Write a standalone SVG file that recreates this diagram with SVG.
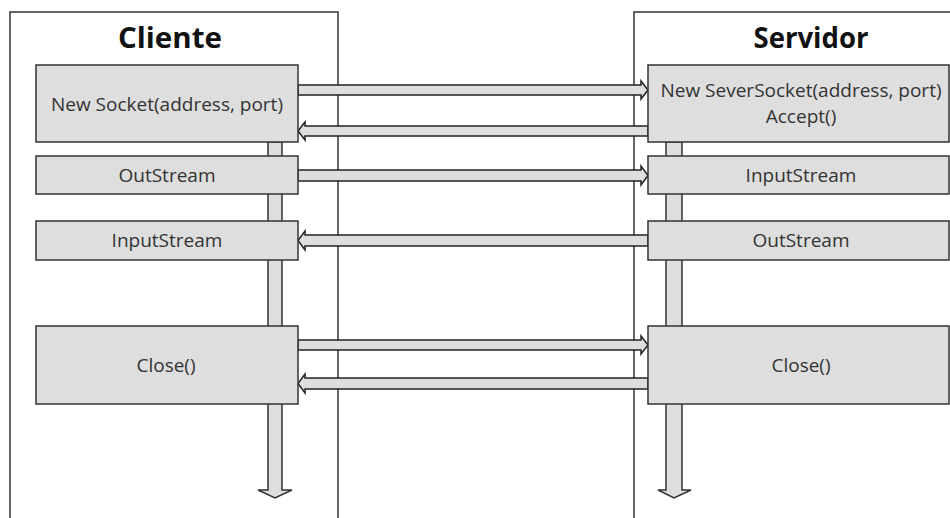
<svg xmlns="http://www.w3.org/2000/svg" width="950" height="518" viewBox="0 0 950 518">
<style>
.frame{fill:#ffffff;stroke:#333333;stroke-width:1.5}
.box{fill:#dedede;stroke:#333333;stroke-width:1.5}
.bar{fill:#dedede;stroke:#333333;stroke-width:1.5}
.arr{fill:#dedede;stroke:#222222;stroke-width:1.5;stroke-linejoin:miter}
.title{font-family:"Open Sans","Liberation Sans",sans-serif;font-weight:bold;font-size:28px;fill:#111111;text-anchor:middle}
.lbl{font-family:"Open Sans","Liberation Sans",sans-serif;font-size:19px;fill:#333333;text-anchor:middle}
</style>
<rect width="950" height="518" fill="#ffffff"/>
<g id="cliente">
<rect class="frame" x="10" y="12" width="328" height="510"/>
<text class="title" x="170" y="48" textLength="104" lengthAdjust="spacingAndGlyphs">Cliente</text>
</g>
<g id="servidor">
<rect class="frame" x="634" y="12" width="330" height="510"/>
<text class="title" x="811" y="48" textLength="115" lengthAdjust="spacingAndGlyphs">Servidor</text>
</g>
<g id="lifeline-cliente">
<path class="bar" d="M268,142 L282,142 L282,490 L292,490 L275,498 L258,490 L268,490 Z"/>
</g>
<g id="lifeline-servidor">
<path class="bar" d="M666,142 L682,142 L682,490 L691,490 L674,498 L658,490 L666,490 Z"/>
</g>
<g id="connectors">
<path class="arr" d="M298,85 L641,85 L641,81 L648,90 L641,99 L641,95 L298,95 Z"/>
<path class="arr" d="M648,126 L305,126 L305,122 L298,131 L305,140 L305,136 L648,136 Z"/>
<path class="arr" d="M298,170 L641,170 L641,166 L648,175.5 L641,185 L641,181 L298,181 Z"/>
<path class="arr" d="M648,235 L305,235 L305,231 L298,240.5 L305,250 L305,246 L648,246 Z"/>
<path class="arr" d="M298,340 L641,340 L641,336 L648,345 L641,354 L641,350 L298,350 Z"/>
<path class="arr" d="M648,378 L305,378 L305,374 L298,383.5 L305,393 L305,389 L648,389 Z"/>
</g>
<g id="c-socket">
<rect class="box" x="36" y="65" width="262" height="77"/>
<text class="lbl" x="167" y="111">New Socket(address, port)</text>
</g>
<g id="c-outstream">
<rect class="box" x="36" y="156" width="262" height="38"/>
<text class="lbl" x="167" y="182">OutStream</text>
</g>
<g id="c-inputstream">
<rect class="box" x="36" y="221" width="262" height="39"/>
<text class="lbl" x="167" y="247">InputStream</text>
</g>
<g id="c-close">
<rect class="box" x="36" y="326" width="262" height="78"/>
<text class="lbl" x="166" y="372">Close()</text>
</g>
<g id="s-socket">
<rect class="box" x="648" y="65" width="301" height="77"/>
<text class="lbl" x="801" y="97">New SeverSocket(address, port)</text>
<text class="lbl" x="801" y="123">Accept()</text>
</g>
<g id="s-inputstream">
<rect class="box" x="648" y="156" width="301" height="38"/>
<text class="lbl" x="801" y="182">InputStream</text>
</g>
<g id="s-outstream">
<rect class="box" x="648" y="221" width="301" height="39"/>
<text class="lbl" x="801" y="247">OutStream</text>
</g>
<g id="s-close">
<rect class="box" x="648" y="326" width="301" height="78"/>
<text class="lbl" x="801" y="372">Close()</text>
</g>
</svg>
